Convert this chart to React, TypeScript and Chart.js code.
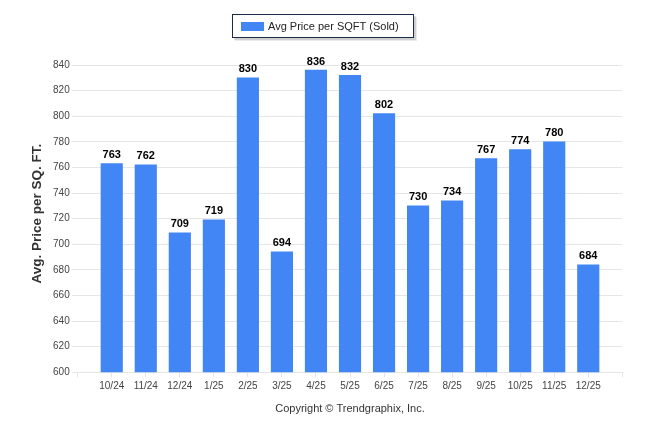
import React, { useEffect, useRef } from "react";
import { Chart, registerables } from "chart.js";

Chart.register(...registerables);

const categories = ["10/24", "11/24", "12/24", "1/25", "2/25", "3/25", "4/25", "5/25", "6/25", "7/25", "8/25", "9/25", "10/25", "11/25", "12/25"];
const avgPriceSold = [763, 762, 709, 719, 830, 694, 836, 832, 802, 730, 734, 767, 774, 780, 684];
const seriesName = "Avg Price per SQFT (Sold)";
const yTitle = "Avg. Price per SQ. FT.";
const copyright = "Copyright \u00A9 Trendgraphix, Inc.";
const yMin = 600;
const yMax = 840;
const yStep = 20;

const BAR = "#4285f4";
const FONT = "'Liberation Sans', Arial, sans-serif";

const decorPlugin = {
  id: "decor",
  afterDatasetsDraw(chart: any) {
    const ctx = chart.ctx;
    const meta = chart.getDatasetMeta(0);
    ctx.save();
    ctx.font = `bold 11px ${FONT}`;
    ctx.fillStyle = "#000";
    ctx.textAlign = "center";
    ctx.textBaseline = "bottom";
    meta.data.forEach((el: any, i: number) => {
      ctx.fillText(String(avgPriceSold[i]), el.x, el.y - 3);
    });
    ctx.restore();
  },
  afterDraw(chart: any) {
    const ctx = chart.ctx;
    const area = chart.chartArea;
    ctx.save();
    ctx.font = `bold 13.5px ${FONT}`;
    ctx.fillStyle = "#333";
    ctx.textAlign = "center";
    ctx.textBaseline = "middle";
    ctx.translate(37, (area.top + area.bottom) / 2 - 5);
    ctx.rotate(-Math.PI / 2);
    ctx.fillText(yTitle, 0, 0);
    ctx.restore();

    ctx.save();
    ctx.font = `11px ${FONT}`;
    ctx.fillStyle = "#333";
    ctx.textAlign = "center";
    ctx.textBaseline = "middle";
    ctx.fillText(copyright, 350, 409);
    ctx.restore();

    ctx.save();
    const bx = 232, by = 14, bw = 182, bh = 24;
    ctx.fillStyle = "rgba(0,0,0,0.12)";
    ctx.fillRect(bx + 2, by + 2, bw, bh);
    ctx.fillStyle = "rgba(0,0,0,0.08)";
    ctx.fillRect(bx + 3, by + 3, bw, bh);
    ctx.fillStyle = "#fff";
    ctx.fillRect(bx, by, bw, bh);
    ctx.strokeStyle = "#1c2b4a";
    ctx.lineWidth = 1;
    ctx.strokeRect(bx + 0.5, by + 0.5, bw - 1, bh - 1);
    ctx.fillStyle = BAR;
    ctx.fillRect(241, 22, 23, 9);
    ctx.font = `11px ${FONT}`;
    ctx.fillStyle = "#222";
    ctx.textAlign = "left";
    ctx.textBaseline = "middle";
    ctx.fillText(seriesName, 268, 26.5);
    ctx.restore();
  },
};

export default function App() {
  const ref = useRef<HTMLCanvasElement | null>(null);

  useEffect(() => {
    if (!ref.current) return;
    const chart = new Chart(ref.current, {
      type: "bar",
      data: {
        datasets: [
          {
            label: seriesName,
            data: avgPriceSold.map((v, i) => ({ x: i, y: v })),
            backgroundColor: BAR,
            borderWidth: 0,
            barThickness: 21.5,
          },
        ],
      },
      options: {
        animation: false,
        responsive: true,
        maintainAspectRatio: false,
        layout: { padding: { left: 0, right: 23.7, top: 65, bottom: 0 } },
        plugins: {
          legend: { display: false },
          title: { display: false },
          tooltip: { enabled: false },
        },
        scales: {
          x: {
            type: "linear",
            offset: false,
            min: -1,
            max: categories.length,
            afterFit: (s: any) => {
              s.height = 434 - 372.3;
            },
            afterBuildTicks: (s: any) => {
              const t = [];
              for (let i = -1; i <= categories.length; i++) t.push({ value: i });
              s.ticks = t;
            },
            ticks: {
              stepSize: 1,
              autoSkip: false,
              maxRotation: 0,
              padding: 3,
              color: "#444",
              font: { family: FONT, size: 10 },
              callback: (v: any) => categories[v] ?? "",
            },
            grid: {
              offset: false,
              drawOnChartArea: false,
              drawTicks: true,
              tickLength: 5,
              color: "#e6e6e6",
            },
            border: { display: true, color: "#e6e6e6" },
          },
          y: {
            min: yMin,
            max: yMax,
            afterFit: (s: any) => {
              s.width = 77.7;
            },
            ticks: {
              stepSize: yStep,
              padding: 2,
              color: "#444",
              font: { family: FONT, size: 10 },
            },
            grid: {
              color: "#e6e6e6",
              drawTicks: true,
              tickLength: 6,
            },
            border: { display: false },
          },
        },
      },
      plugins: [decorPlugin],
    } as any);
    return () => chart.destroy();
  }, []);

  return (
    <div style={{ position: "fixed", left: 0, top: 0, width: 646, height: 434, background: "#fff" }}>
      <canvas ref={ref} />
    </div>
  );
}
